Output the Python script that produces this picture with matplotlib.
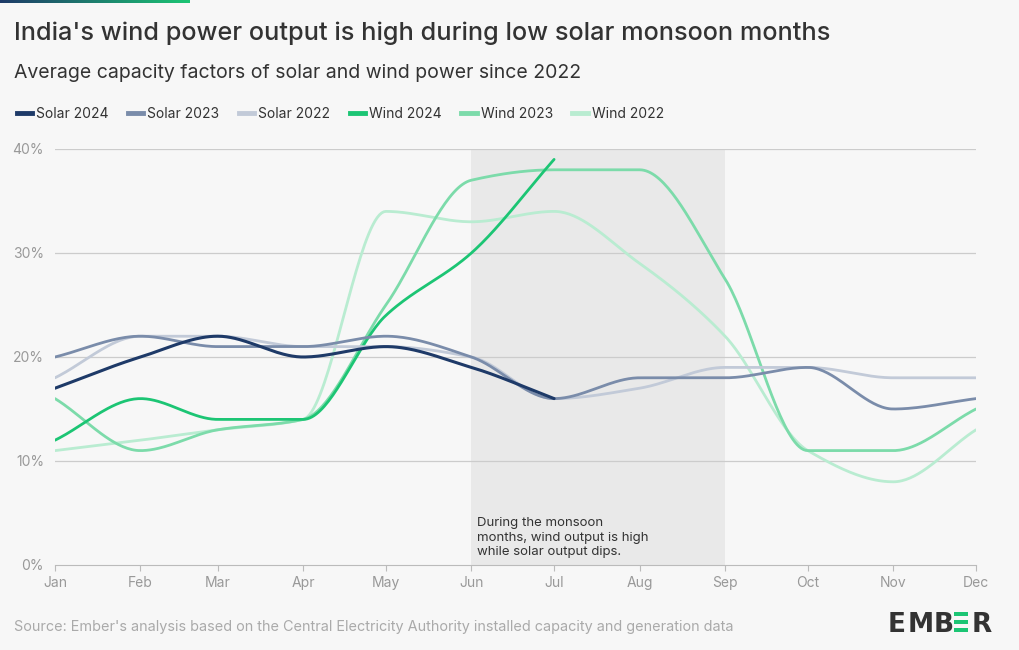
import numpy as np
import matplotlib
matplotlib.use("Agg")
import matplotlib.pyplot as plt
from matplotlib.lines import Line2D
from matplotlib.patches import Rectangle
from datetime import date

plt.rcParams['font.family'] = ['Inter', 'DejaVu Sans']

months = ['Jan', 'Feb', 'Mar', 'Apr', 'May', 'Jun', 'Jul', 'Aug', 'Sep', 'Oct', 'Nov', 'Dec']

solar_2024 = [17, 20, 22, 20, 21, 19, 16]
solar_2023 = [20, 22, 21, 21, 22, 20, 16, 18, 18, 19, 15, 16]
solar_2022 = [18, 22, 22, 21, 21, 20, 16, 17, 19, 19, 18, 18]
wind_2024 = [12, 16, 14, 14, 24, 30, 39]
wind_2023 = [16, 11, 13, 14, 25, 37, 38, 38, 27.5, 11, 11, 15]
wind_2022 = [11, 12, 13, 14, 34, 33, 34, 29, 22, 11, 8, 13]

series = [
    ('Solar 2024', solar_2024, '#1e3a68', 2.2),
    ('Solar 2023', solar_2023, '#7a8caa', 2.0),
    ('Solar 2022', solar_2022, '#c2cad8', 2.0),
    ('Wind 2024', wind_2024, '#1cc574', 2.0),
    ('Wind 2023', wind_2023, '#7cdbaa', 2.0),
    ('Wind 2022', wind_2022, '#b9ecd1', 2.0),
]

# x positions as day of year (month starts)
xdays = np.array([date(2023, m, 1).timetuple().tm_yday - 1 for m in range(1, 13)], dtype=float)


def monotone(x, y, n=40):
    # monotone cubic curve (Fritsch-Carlson), only for drawing the smooth line
    x = np.asarray(x, float)
    y = np.asarray(y, float)
    h = np.diff(x)
    d = np.diff(y) / h
    m = np.zeros_like(y)
    m[0], m[-1] = d[0], d[-1]
    for i in range(1, len(y) - 1):
        if d[i - 1] * d[i] <= 0:
            m[i] = 0
        else:
            w1 = 2 * h[i] + h[i - 1]
            w2 = h[i] + 2 * h[i - 1]
            m[i] = (w1 + w2) / (w1 / d[i - 1] + w2 / d[i])
    xs, ys = [], []
    for i in range(len(x) - 1):
        t = np.linspace(0, 1, n)
        h00 = 2 * t**3 - 3 * t**2 + 1
        h10 = t**3 - 2 * t**2 + t
        h01 = -2 * t**3 + 3 * t**2
        h11 = t**3 - t**2
        xs.append(x[i] + t * h[i])
        ys.append(h00 * y[i] + h10 * h[i] * m[i] + h01 * y[i + 1] + h11 * h[i] * m[i + 1])
    return np.concatenate(xs), np.concatenate(ys)


bg = '#f7f7f7'
W, H = 1020, 650
fig = plt.figure(figsize=(10.2, 6.5), dpi=100, facecolor=bg)
ax = fig.add_axes([55 / W, 1 - 565 / H, (976 - 55) / W, (565 - 149) / H])
ax.set_facecolor(bg)

# monsoon shading Jun-Sep
ax.axvspan(xdays[5], xdays[8], color='#e9e9e9', zorder=0, lw=0)

for yv in [10, 20, 30, 40]:
    ax.axhline(yv, color='#cccccc', lw=0.9, zorder=1)

for name, vals, col, lw in reversed(series):
    xs, ys = monotone(xdays[:len(vals)], vals)
    ax.plot(xs, ys, color=col, lw=lw, solid_capstyle='round', zorder=3)

ax.set_xlim(xdays[0], xdays[-1])
ax.set_ylim(0, 40)
ax.set_xticks(xdays)
ax.set_xticklabels(months)
ax.set_yticks([0, 10, 20, 30, 40])
ax.set_yticklabels(['0%', '10%', '20%', '30%', '40%'])
for s in ['top', 'right', 'left']:
    ax.spines[s].set_visible(False)
ax.spines['bottom'].set_color('#bbbbbb')
ax.tick_params(axis='x', colors='#bbbbbb', labelcolor='#999999', labelsize=10, length=4, pad=4)
ax.tick_params(axis='y', length=0, labelcolor='#999999', labelsize=10, pad=8)

fig.text(477 / W, 1 - 517 / H, 'During the monsoon\nmonths, wind output is high\nwhile solar output dips.',
         fontsize=9.5, color='#333333', va='top', ha='left', linespacing=1.3)

# top gradient bar
grad = np.linspace(0, 1, 256).reshape(1, -1)
cax = fig.add_axes([0, 1 - 3 / H, 190 / W, 3 / H])
cmap = matplotlib.colors.LinearSegmentedColormap.from_list('g', ['#1e3a68', '#1cc574'])
cax.imshow(grad, aspect='auto', cmap=cmap)
cax.axis('off')

fig.text(14 / W, 1 - 33 / H, "India's wind power output is high during low solar monsoon months",
         fontsize=18.2, fontweight='medium', color='#333333', va='center', ha='left')
fig.text(14 / W, 1 - 73 / H, 'Average capacity factors of solar and wind power since 2022',
         fontsize=14, color='#333333', va='center', ha='left')

handles = [Line2D([0], [0], color=c, lw=3.5) for _, _, c, _ in series]
fig.legend(handles, [s[0] for s in series], loc='center left', bbox_to_anchor=(4 / W, 1 - 114 / H),
           ncol=6, frameon=False, fontsize=10, handlelength=1.1, handletextpad=0.3,
           columnspacing=1.4, labelcolor='#333333')

fig.text(14 / W, 1 - 627 / H,
         "Source: Ember's analysis based on the Central Electricity Authority installed capacity and generation data",
         fontsize=10.4, color='#aaaaaa', va='center', ha='left')

# logo: E M B, green bars, R
for ch, xp in [('E', 888), ('M', 908), ('B', 934), ('R', 972)]:
    fig.text(xp / W, 1 - 632 / H, ch, fontsize=19, fontweight='bold', color='#333333',
             va='baseline', ha='left', family='DejaVu Sans')
for yb in [612, 620, 628]:
    fig.patches.append(Rectangle((954 / W, 1 - (yb + 4) / H), 14 / W, 4 / H,
                                 transform=fig.transFigure, color='#1cc574', lw=0))

fig.savefig('out.png', dpi=100, facecolor=bg)
